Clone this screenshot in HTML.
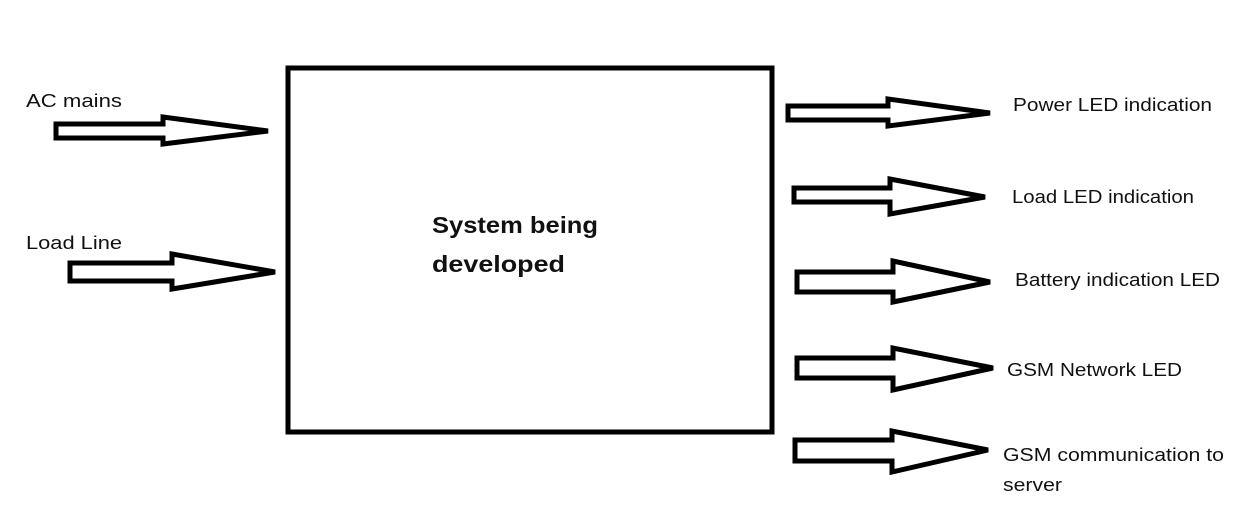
<!DOCTYPE html>
<html><head><style>html,body{margin:0;padding:0;background:#fff;}svg{display:block}</style></head>
<body>
<svg width="1240" height="515" xmlns="http://www.w3.org/2000/svg" font-family="Liberation Sans, sans-serif">
<rect width="1240" height="515" fill="#fff"/>
<rect x="288" y="68" width="484" height="364" fill="none" stroke="#000" stroke-width="5"/>
<g fill="none" stroke="#000" stroke-width="5" stroke-linejoin="miter">
<polygon points="56,124 163,124 163,117 268,131 163,144 163,138 56,138"/>
<polygon points="70,263 172,263 172,254 275,272 172,289 172,281 70,281"/>
<polygon points="788,106 888,106 888,99 990,113 888,126 888,120 788,120"/>
<polygon points="794,188 890,188 890,179 985,197 890,214 890,202 794,202"/>
<polygon points="797,272 893,272 893,261 990,282 893,302 893,292 797,292"/>
<polygon points="797,358 893,358 893,348 993,368 893,390 893,378 797,378"/>
<polygon points="795,440 892,440 892,431 988,450 892,472 892,461 795,461"/>
</g>
<g font-size="18" fill="#111">
<text x="26" y="107" textLength="96" lengthAdjust="spacingAndGlyphs">AC mains</text>
<text x="26" y="249" textLength="96" lengthAdjust="spacingAndGlyphs">Load Line</text>
<text x="1013" y="111" textLength="199" lengthAdjust="spacingAndGlyphs">Power LED indication</text>
<text x="1012" y="203" textLength="182" lengthAdjust="spacingAndGlyphs">Load LED indication</text>
<text x="1015" y="286" textLength="205" lengthAdjust="spacingAndGlyphs">Battery indication LED</text>
<text x="1007" y="376" textLength="175" lengthAdjust="spacingAndGlyphs">GSM Network LED</text>
<text x="1003" y="461" textLength="221" lengthAdjust="spacingAndGlyphs">GSM communication to</text>
<text x="1003" y="491" textLength="59" lengthAdjust="spacingAndGlyphs">server</text>
</g>
<g font-size="23" font-weight="bold" fill="#111">
<text x="432" y="233" textLength="166" lengthAdjust="spacingAndGlyphs">System being</text>
<text x="432" y="272" textLength="133" lengthAdjust="spacingAndGlyphs">developed</text>
</g>
</svg>
</body></html>
